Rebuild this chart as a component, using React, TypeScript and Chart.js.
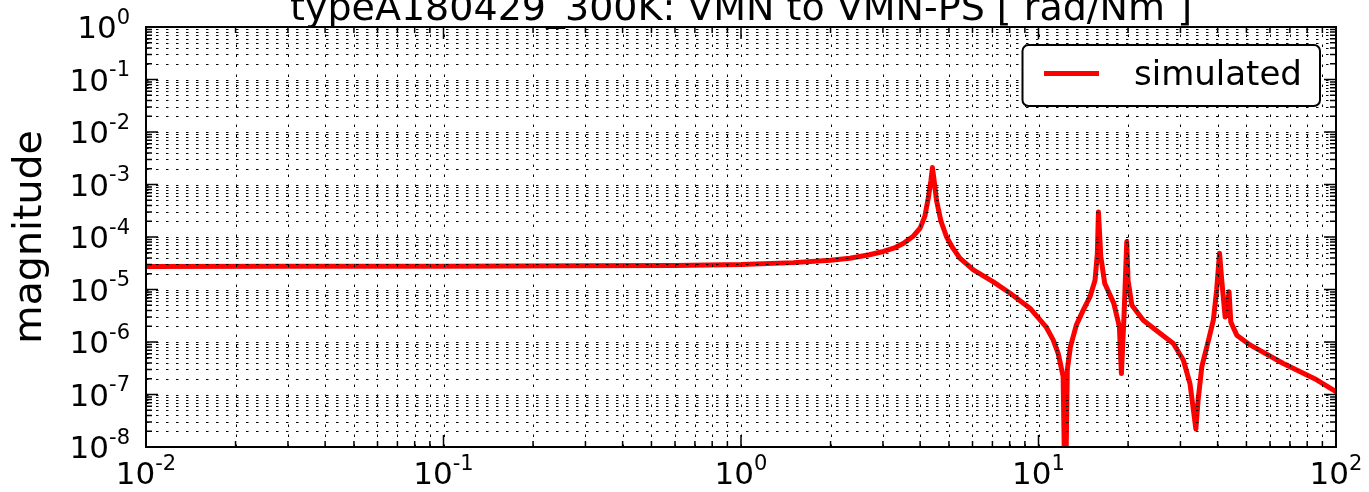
import React, { useEffect, useRef } from "react";
import { Chart, registerables } from "chart.js";

Chart.register(...registerables);

const TITLE = "typeA180429_300K: VMN to VMN-PS [ rad/Nm ]";
const Y_LABEL = "magnitude";
const LEGEND_LABEL = "simulated";

const X_DECADES = [-2, -1, 0, 1, 2];
const Y_DECADES = [-8, -7, -6, -5, -4, -3, -2, -1, 0];

const freq = [
  0.01, 0.03, 0.1, 0.3, 0.6, 1.0, 1.5, 2.0, 2.32, 2.7, 3.01, 3.3, 3.52, 3.8, 4.0,
  4.15, 4.27, 4.35, 4.4, 4.45, 4.54, 4.7, 4.91, 5.15, 5.45, 6.04, 7.05, 8.03, 9.36,
  10.6, 11.2, 11.65, 12.1, 12.3, 12.5, 12.8, 13.4, 14.15, 14.9, 15.49, 15.77, 15.9,
  16.2, 16.7, 17.9, 18.7, 19.0, 19.4, 19.8, 20.0, 20.6, 22.5, 25.6, 28.4, 30.7,
  32.3, 33.8, 34.4, 35.4, 37.3, 38.7, 39.7, 40.6, 41.3, 42.4, 42.9, 43.7, 44.3,
  46.4, 51.4, 66.5, 86.1, 100,
];

const magnitude = [
  2.75e-5, 2.76e-5, 2.78e-5, 2.82e-5, 2.88e-5, 2.98e-5, 3.25e-5, 3.6e-5, 3.95e-5,
  4.6e-5, 5.3e-5, 6.3e-5, 7.6e-5, 1.05e-4, 1.48e-4, 2.5e-4, 5.9e-4, 1.2e-3, 2.1e-3,
  1.3e-3, 5.0e-4, 2.0e-4, 1.0e-4, 6.2e-5, 3.9e-5, 2.36e-5, 1.4e-5, 8.5e-6, 4.4e-6,
  1.95e-6, 1.1e-6, 6.0e-7, 2.2e-7, 5e-10, 3.0e-7, 8.1e-7, 2.1e-6, 4.1e-6, 7.3e-6,
  1.5e-5, 4.9e-5, 3.0e-4, 4.2e-5, 1.3e-5, 5.5e-6, 1.95e-6, 2.5e-7, 3.5e-6, 8.1e-5,
  1.5e-5, 5.0e-6, 2.6e-6, 1.47e-6, 9.4e-7, 4.5e-7, 1.6e-7, 2.2e-8, 7.9e-8, 3.4e-7,
  1.1e-6, 2.6e-6, 9.8e-6, 4.9e-5, 1.5e-5, 3.0e-6, 3.5e-6, 9.1e-6, 2.4e-6, 1.35e-6,
  8.8e-7, 3.9e-7, 1.9e-7, 1.13e-7,
];

const FONT = '"DejaVu Sans", sans-serif';

function gridValues(decades: number[]) {
  const major: number[] = [];
  const minor: number[] = [];
  for (let i = 0; i < decades.length; i++) {
    const base = Math.pow(10, decades[i]);
    major.push(base);
    if (i < decades.length - 1) {
      for (let m = 2; m <= 9; m++) minor.push(m * base);
    }
  }
  return { major, minor };
}

function drawPowerLabel(
  ctx: CanvasRenderingContext2D,
  exp: number,
  x: number,
  baseline: number,
  align: "center" | "right"
) {
  const mainFont = `31px ${FONT}`;
  const supFont = `21px ${FONT}`;
  const main = "10";
  const sup = String(exp);
  ctx.font = mainFont;
  const wMain = ctx.measureText(main).width;
  ctx.font = supFont;
  const wSup = ctx.measureText(sup).width;
  const total = wMain + wSup;
  const start = align === "center" ? x - total / 2 : x - total;
  ctx.textAlign = "left";
  ctx.textBaseline = "alphabetic";
  ctx.font = mainFont;
  ctx.fillText(main, start, baseline);
  ctx.font = supFont;
  ctx.fillText(sup, start + wMain, baseline - 14.5);
}

export default function App() {
  const ref = useRef<HTMLCanvasElement>(null);

  useEffect(() => {
    document.body.style.margin = "0";
    const canvas = ref.current!;

    const overlay = {
      id: "mplOverlay",
      afterDatasetsDraw(chart: any) {
        const { ctx, chartArea: a } = chart;
        const xs = chart.scales.x;
        const ys = chart.scales.y;
        const gx = gridValues(X_DECADES);
        const gy = gridValues(Y_DECADES);
        ctx.save();
        ctx.strokeStyle = "#000";
        ctx.lineWidth = 1;
        ctx.setLineDash([2.5, 7.5]);
        for (const v of [...gx.major, ...gx.minor]) {
          const px = Math.round(xs.getPixelForValue(v)) + 0.5;
          if (px <= a.left + 1 || px >= a.right - 1) continue;
          ctx.beginPath();
          ctx.moveTo(px, a.bottom);
          ctx.lineTo(px, a.top);
          ctx.stroke();
        }
        for (const v of [...gy.major, ...gy.minor]) {
          const py = Math.round(ys.getPixelForValue(v)) + 0.5;
          if (py <= a.top + 1 || py >= a.bottom - 1) continue;
          ctx.beginPath();
          ctx.moveTo(a.left, py);
          ctx.lineTo(a.right, py);
          ctx.stroke();
        }
        ctx.restore();
      },
      afterDraw(chart: any) {
        const { ctx, chartArea: a } = chart;
        const xs = chart.scales.x;
        const ys = chart.scales.y;
        const gx = gridValues(X_DECADES);
        const gy = gridValues(Y_DECADES);
        ctx.save();
        ctx.setLineDash([]);
        ctx.strokeStyle = "#000";
        ctx.lineWidth = 1.5;
        const tickX = (vals: number[], len: number) => {
          for (const v of vals) {
            const px = xs.getPixelForValue(v);
            ctx.beginPath();
            ctx.moveTo(px, a.bottom);
            ctx.lineTo(px, a.bottom - len);
            ctx.moveTo(px, a.top);
            ctx.lineTo(px, a.top + len);
            ctx.stroke();
          }
        };
        const tickY = (vals: number[], len: number) => {
          for (const v of vals) {
            const py = ys.getPixelForValue(v);
            ctx.beginPath();
            ctx.moveTo(a.left, py);
            ctx.lineTo(a.left + len, py);
            ctx.moveTo(a.right, py);
            ctx.lineTo(a.right - len, py);
            ctx.stroke();
          }
        };
        tickX(gx.major, 12);
        tickX(gx.minor, 6);
        tickY(gy.major, 12);
        tickY(gy.minor, 6);
        ctx.lineWidth = 2;
        ctx.strokeRect(a.left, a.top, a.right - a.left, a.bottom - a.top);

        ctx.fillStyle = "#000";
        for (const d of X_DECADES) {
          drawPowerLabel(ctx, d, xs.getPixelForValue(Math.pow(10, d)), 484, "center");
        }
        for (const d of Y_DECADES) {
          drawPowerLabel(ctx, d, 130, ys.getPixelForValue(Math.pow(10, d)) + 11, "right");
        }

        ctx.font = `38px ${FONT}`;
        ctx.textAlign = "center";
        ctx.textBaseline = "alphabetic";
        ctx.fillText(TITLE, (a.left + a.right) / 2, 20);

        ctx.save();
        ctx.translate(31, (a.top + a.bottom) / 2);
        ctx.rotate(-Math.PI / 2);
        ctx.font = `39.5px ${FONT}`;
        ctx.textAlign = "center";
        ctx.textBaseline = "middle";
        ctx.fillText(Y_LABEL, 0, 0);
        ctx.restore();

        const lx = 1022.5, ly = 45, lw = 297.5, lh = 61, r = 6;
        ctx.beginPath();
        ctx.moveTo(lx + r, ly);
        ctx.arcTo(lx + lw, ly, lx + lw, ly + lh, r);
        ctx.arcTo(lx + lw, ly + lh, lx, ly + lh, r);
        ctx.arcTo(lx, ly + lh, lx, ly, r);
        ctx.arcTo(lx, ly, lx + lw, ly, r);
        ctx.closePath();
        ctx.fillStyle = "#fff";
        ctx.fill();
        ctx.lineWidth = 2;
        ctx.strokeStyle = "#000";
        ctx.stroke();
        ctx.strokeStyle = "#ff0000";
        ctx.lineWidth = 5;
        ctx.lineCap = "butt";
        ctx.beginPath();
        ctx.moveTo(1044, 73.5);
        ctx.lineTo(1099, 73.5);
        ctx.stroke();
        ctx.fillStyle = "#000";
        ctx.font = `34px ${FONT}`;
        ctx.textAlign = "left";
        ctx.textBaseline = "alphabetic";
        ctx.fillText(LEGEND_LABEL, 1134, 85);
        ctx.restore();
      },
    };

    const chart = new Chart(canvas, {
      type: "line",
      data: {
        datasets: [
          {
            label: LEGEND_LABEL,
            data: freq.map((f, i) => ({ x: f, y: magnitude[i] })),
            borderColor: "#ff0000",
            backgroundColor: "#ff0000",
            borderWidth: 5,
            pointRadius: 0,
            tension: 0,
            borderJoinStyle: "round",
            borderCapStyle: "round",
            clip: 0,
          } as any,
        ],
      },
      options: {
        animation: false,
        responsive: false,
        devicePixelRatio: 1,
        layout: { padding: { left: 146, right: 33, top: 27, bottom: 45 } },
        scales: {
          x: { type: "logarithmic", min: 0.01, max: 100, display: false },
          y: { type: "logarithmic", min: 1e-8, max: 1, display: false },
        },
        plugins: {
          legend: { display: false },
          title: { display: false },
          tooltip: { enabled: false },
        },
      },
      plugins: [overlay],
    });
    return () => chart.destroy();
  }, []);

  return (
    <canvas
      ref={ref}
      width={1369}
      height={492}
      style={{ display: "block", width: "1369px", height: "492px" }}
    />
  );
}
